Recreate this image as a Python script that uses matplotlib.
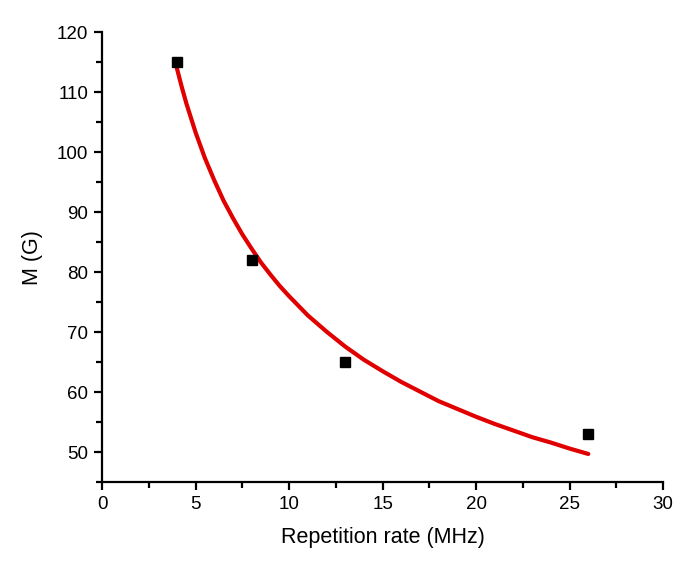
import numpy as np
import matplotlib.pyplot as plt

plt.rcParams['font.family'] = ['Liberation Sans', 'DejaVu Sans']

# measured points
rate = [4, 8, 13, 26]
m_field = [115, 82, 65, 53]

# fitted curve
fit_x = [4, 4.25, 4.5, 5, 5.5, 6, 6.5, 7, 7.5, 8, 8.5, 9, 9.5, 10, 11, 12,
         13, 14, 15, 16, 17, 18, 19, 20, 21, 22, 23, 24, 25, 26]
fit_y = [114, 111.0, 108.2, 103.3, 99.0, 95.3, 91.9, 89.0, 86.3, 83.9, 81.6,
         79.6, 77.7, 76.0, 72.8, 70.1, 67.6, 65.4, 63.5, 61.7, 60.1, 58.5,
         57.2, 55.9, 54.7, 53.6, 52.5, 51.6, 50.6, 49.7]

fig = plt.figure(figsize=(6.85, 5.74), dpi=100)
ax = fig.add_axes([0.149, 0.160, 0.819, 0.784])

ax.plot(fit_x, fit_y, color='#e00000', lw=3, solid_joinstyle='round',
        solid_capstyle='round', zorder=2)
ax.plot(rate, m_field, 's', color='black', ms=7, zorder=3)

ax.set_xlim(0, 30)
ax.set_ylim(45, 120)
ax.set_xticks(np.arange(0, 31, 5))
ax.set_xticks(np.arange(2.5, 30, 5), minor=True)
ax.set_yticks(np.arange(50, 121, 10))
ax.set_yticks(np.arange(45, 120, 10), minor=True)

for s in ['top', 'right']:
    ax.spines[s].set_visible(False)
for s in ['left', 'bottom']:
    ax.spines[s].set_linewidth(1.6)
ax.tick_params(which='major', length=6, width=1.6, labelsize=13.5, pad=4)
ax.tick_params(which='minor', length=4, width=1.6)

ax.set_xlabel('Repetition rate (MHz)', fontsize=15.5, labelpad=10)
ax.set_ylabel('M (G)', fontsize=15.5, labelpad=10)

fig.savefig('out.png', dpi=100)
